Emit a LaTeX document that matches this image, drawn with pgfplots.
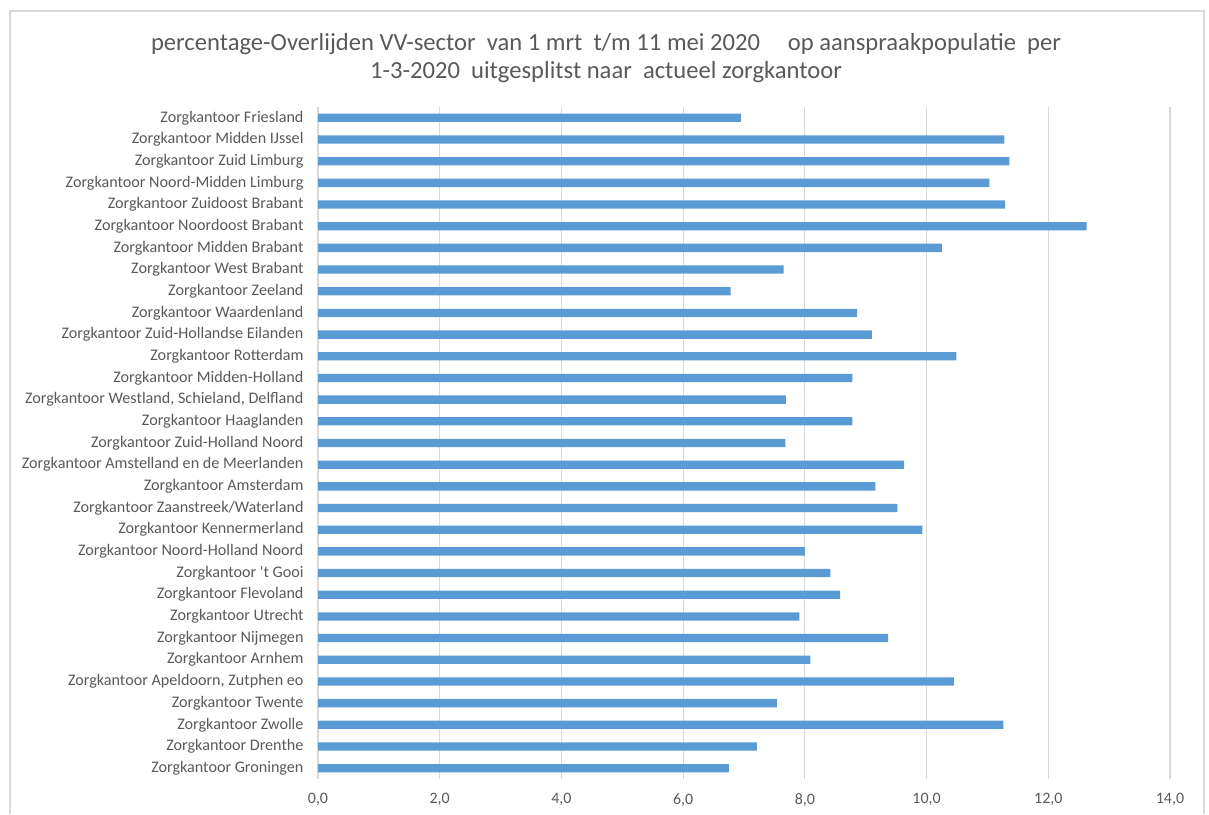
\documentclass[border=0pt]{standalone}
\usepackage{pgfplots}
\pgfplotsset{compat=1.18}
\usepackage{pgfplotstable}
\usepackage{fontspec}
\setmainfont{Carlito}[Ligatures=TeXOff]

\definecolor{barblue}{HTML}{5B9BD5}
\definecolor{gridgray}{HTML}{D9D9D9}
\definecolor{textgray}{HTML}{595959}

% index 0 = bottom (Groningen), 30 = top (Friesland)
\pgfplotstableread{
idx val
0  6.75
1  7.21
2  11.26
3  7.54
4  10.45
5  8.09
6  9.37
7  7.91
8  8.58
9  8.42
10 8.00
11 9.93
12 9.52
13 9.16
14 9.63
15 7.68
16 8.78
17 7.69
18 8.78
19 10.49
20 9.10
21 8.86
22 6.78
23 7.65
24 10.25
25 12.63
26 11.29
27 11.03
28 11.36
29 11.28
30 6.95
}\sterfte

\begin{document}
\begin{tikzpicture}
\path (0,0) rectangle (1209bp,814bp);
\draw[gridgray, line width=1.5bp] (10bp,0bp) -- (10bp,803bp) -- (1204bp,803bp) -- (1204bp,0bp);
\node[text=textgray, font=\fontsize{24.7}{28}\selectfont, align=center] at (606bp,756bp)
  {percentage-Overlijden VV-sector\ \ van 1 mrt\ \ t/m 11 mei 2020\ \ \ \ \ op aanspraakpopulatie\ \ per\\
   1-3-2020\ \ uitgesplitst naar\ \ actueel zorgkantoor};
\begin{axis}[
  at={(318bp,35bp)}, anchor=south west,
  scale only axis, width=852bp, height=672bp,
  xbar, bar width=8.3bp,
  xmin=0, xmax=14, xtick={0,2,...,14},
  ymin=-0.5, ymax=30.5, ytick={0,...,30},
  yticklabels={
    Zorgkantoor Groningen,
    Zorgkantoor Drenthe,
    Zorgkantoor Zwolle,
    Zorgkantoor Twente,
    {Zorgkantoor Apeldoorn, Zutphen eo},
    Zorgkantoor Arnhem,
    Zorgkantoor Nijmegen,
    Zorgkantoor Utrecht,
    Zorgkantoor Flevoland,
    Zorgkantoor 't Gooi,
    Zorgkantoor Noord-Holland Noord,
    Zorgkantoor Kennermerland,
    Zorgkantoor Zaanstreek/Waterland,
    Zorgkantoor Amsterdam,
    Zorgkantoor Amstelland en de Meerlanden,
    Zorgkantoor Zuid-Holland Noord,
    Zorgkantoor Haaglanden,
    {Zorgkantoor Westland, Schieland, Delfland},
    Zorgkantoor Midden-Holland,
    Zorgkantoor Rotterdam,
    Zorgkantoor Zuid-Hollandse Eilanden,
    Zorgkantoor Waardenland,
    Zorgkantoor Zeeland,
    Zorgkantoor West Brabant,
    Zorgkantoor Midden Brabant,
    Zorgkantoor Noordoost Brabant,
    Zorgkantoor Zuidoost Brabant,
    Zorgkantoor Noord-Midden Limburg,
    Zorgkantoor Zuid Limburg,
    Zorgkantoor Midden IJssel,
    Zorgkantoor Friesland},
  axis line style={draw=none},
  major tick length=0pt,
  xmajorgrids, major grid style={gridgray, line width=1.2bp},
  ymajorgrids=false,
  yticklabel style={font=\fontsize{16.2}{18}\selectfont, text=textgray, anchor=east, xshift=-11bp},
  xticklabel style={font=\fontsize{16}{18}\selectfont, text=textgray, yshift=-11bp},
  /pgf/number format/.cd, fixed, fixed zerofill, precision=1, use comma, assume math mode=true,
]
\addplot[fill=barblue, draw=none] table[x=val, y=idx] {\sterfte};
\end{axis}
\end{tikzpicture}
\end{document}
